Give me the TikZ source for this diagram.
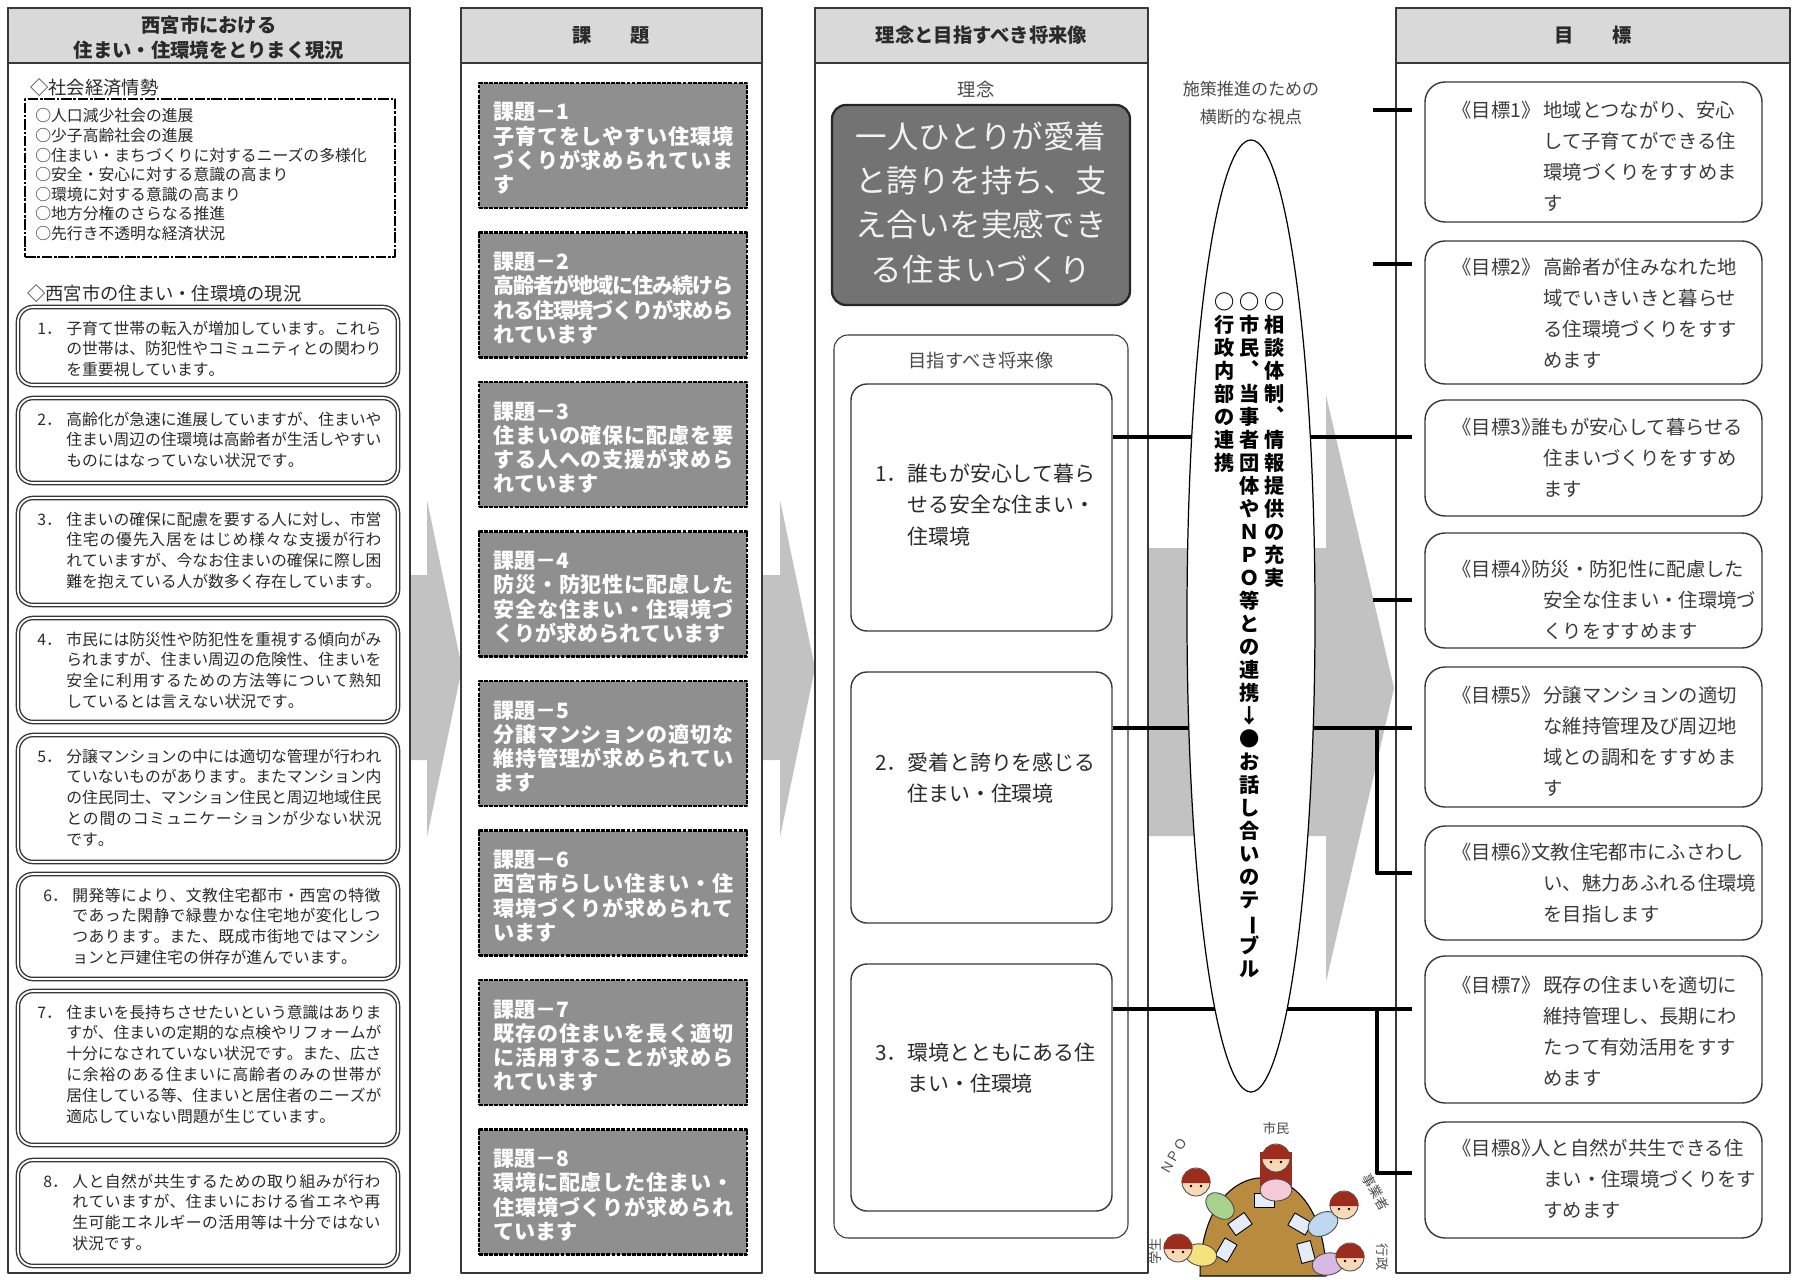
\documentclass[tikz,border=0pt]{standalone}
\usepackage{fontspec}
\setmainfont{Noto Sans CJK JP}
\usetikzlibrary{fit,shapes.geometric}
\definecolor{headgray}{HTML}{D9D9D9}
\definecolor{framec}{HTML}{383838}
\definecolor{kadaigray}{HTML}{8F8F8F}
\definecolor{rinengray}{HTML}{737373}
\definecolor{arrowgray}{HTML}{C2C2C2}
\definecolor{textc}{HTML}{2A2A2A}
\definecolor{softc}{HTML}{4A4A4A}
\definecolor{goaltext}{HTML}{3A3A3A}
\definecolor{tablec}{HTML}{B98B3E}
\definecolor{skinc}{HTML}{F7D9B5}
\definecolor{hairc}{HTML}{9C2D1E}
\definecolor{paperc}{HTML}{E3ECF7}
\definecolor{pinkc}{HTML}{F6C9D8}
\definecolor{greenc}{HTML}{A9D18E}
\definecolor{bluec}{HTML}{BDD7EE}
\definecolor{yellowc}{HTML}{F4E37C}
\definecolor{purplec}{HTML}{D7B9E3}
\def\tateend{\tateend}
\def\spreadloop#1{\ifx#1\tateend\else#1\hskip0pt plus1pt minus1.2pt\relax\expandafter\spreadloop\fi}
\def\tateloop#1{\ifx#1\tateend\else\hbox to 1em{\hss#1\hss}\expandafter\tateloop\fi}
\newcommand\lft[2]{\vtop{\baselineskip=#1\relax\lineskiplimit=-\maxdimen\let\\\cr\halign{##\hfil\cr#2\crcr}}}
\newcommand\ctr[2]{\vtop{\baselineskip=#1\relax\lineskiplimit=-\maxdimen\let\\\cr\halign{\hfil##\hfil\cr#2\crcr}}}
\newcommand\jst[3]{\vtop{\baselineskip=#2\relax\lineskiplimit=-\maxdimen\let\\\cr\halign{\hbox to #1{\spreadloop##\tateend\unskip}\cr#3\hfill\crcr}}}
\newcommand\tate[2]{\vtop{\baselineskip=#1\relax\lineskiplimit=-\maxdimen\tateloop#2\tateend}}
\newcommand\vc{\hbox to 1em{\kern.55em\raise.6em\hbox{、}\hss}}
\newcommand\vb{\rotatebox[origin=c]{-90}{ー}}
\begin{document}
\begin{tikzpicture}[x=0.2mm,y=-0.2mm,line join=round,
  fitbox/.style={inner sep=0pt,fit={#1}},
  frame/.style={draw=framec,line width=1.4pt,fill=white},
  headbar/.style={draw=framec,line width=1.4pt,fill=headgray},
  sitbox/.style={draw=framec,line width=0.8pt,double=white,double distance=1pt,rounded corners=3mm,fill=white},
  kadaibox/.style={draw=black,line width=1.6pt,dash pattern=on 2.2pt off 0.7pt,fill=kadaigray},
  visionbox/.style={draw=framec,line width=0.8pt,rounded corners=3.2mm,fill=white},
  goalbox/.style={draw=framec,line width=0.8pt,rounded corners=4mm,fill=white},
  conn/.style={line width=2.6pt,line cap=butt},
  txt/.style={inner sep=0pt,anchor=base west,text=textc},
  ctxt/.style={inner sep=0pt,anchor=base,text=textc},
  headfont/.style={font=\fontsize{11}{13}\selectfont\bfseries,text=textc},
  tatefont/.style={inner sep=0pt,anchor=base,font=\fontsize{11.5}{13}\selectfont\bfseries},
  labfont/.style={inner sep=0pt,text=softc,font=\fontsize{7.5}{8}\selectfont},
  person/.style={line width=0.5pt,draw=black!70}]
\fill[white] (0,0) rectangle (1798,1279);
\useasboundingbox (0,0) rectangle (1798,1279);
\foreach \ax in {427,780} \fill[arrowgray] (\ax-127,575) -- (\ax,575) -- (\ax,500) -- (\ax+35,668) -- (\ax,837) -- (\ax,760) -- (\ax-127,760) -- cycle;
\fill[arrowgray] (1100,548) -- (1326,548) -- (1326,395) -- (1394,688) -- (1326,982) -- (1326,836) -- (1100,836) -- cycle;
\foreach \l/\r/\n in {8/410/1,461/762/2,815/1148/3,1396/1790/4} {
  \node[frame,fitbox={(\l,8)(\r,1273)}] (col\n) {};
  \node[headbar,fitbox={(\l,8)(\r,63)}] (head\n) {};
}
\node[ctxt,headfont] (ht1) at (209,32.3) {\ctr{14.2pt}{西宮市における\\住まい・住環境をとりまく現況}};
\node[headfont] (ht2) at (head2) {課　　題};
\node[headfont] (ht3) at (head3) {理念と目指すべき将来像};
\node[headfont] (ht4) at (head4) {目　　標};

\node[txt,font=\fontsize{10.4}{12}\selectfont] (soc) at (30,95) {◇社会経済情勢};
\node[draw=black,line width=1.4pt,dash pattern=on 6pt off 1pt on 1.5pt off 1pt,fitbox={(25,99)(395,257)}] (socbox) {};
\node[txt,font=\fontsize{9}{11}\selectfont] (soct) at (35,122) {\lft{11.1pt}{○人口減少社会の進展\\○少子高齢社会の進展\\○住まい・まちづくりに対するニーズの多様化\\○安全・安心に対する意識の高まり\\○環境に対する意識の高まり\\○地方分権のさらなる推進\\○先行き不透明な経済状況}};
\node[txt,font=\fontsize{10.4}{12}\selectfont] (cur) at (27,300) {◇西宮市の住まい・住環境の現況};
\foreach \n/\ya/\yb/\xn/\w/\tx in {
  1/307/385/37/63mm/{子育て世帯の転入が増加しています。これら\\の世帯は、防犯性やコミュニティとの関わり\\を重要視しています。},
  2/398/483/37/63mm/{高齢化が急速に進展していますが、住まいや\\住まい周辺の住環境は高齢者が生活しやすい\\ものにはなっていない状況です。},
  3/498/605/37/63mm/{住まいの確保に配慮を要する人に対し、市営\\住宅の優先入居をはじめ様々な支援が行わ\\れていますが、今なお住まいの確保に際し困\\難を抱えている人が数多く存在しています。},
  4/618/722/37/63mm/{市民には防災性や防犯性を重視する傾向がみ\\られますが、住まい周辺の危険性、住まいを\\安全に利用するための方法等について熟知\\しているとは言えない状況です。},
  5/735/862/37/63mm/{分譲マンションの中には適切な管理が行われ\\ていないものがあります。またマンション内\\の住民同士、マンション住民と周辺地域住民\\との間のコミュニケーションが少ない状況\\です。},
  6/874/979/43/61.6mm/{開発等により、文教住宅都市・西宮の特徴\\であった閑静で緑豊かな住宅地が変化しつ\\つあります。また、既成市街地ではマンシ\\ョンと戸建住宅の併存が進んでいます。},
  7/991/1145/37/63mm/{住まいを長持ちさせたいという意識はありま\\すが、住まいの定期的な点検やリフォームが\\十分になされていない状況です。また、広さ\\に余裕のある住まいに高齢者のみの世帯が\\居住している等、住まいと居住者のニーズが\\適応していない問題が生じています。},
  8/1160/1266/43/61.6mm/{人と自然が共生するための取り組みが行わ\\れていますが、住まいにおける省エネや再\\生可能エネルギーの活用等は十分ではない\\状況です。}}
{
  \node[sitbox,fitbox={(18,\ya)(398,\yb)}] (s\n) {};
  \node[txt,font=\fontsize{9}{11}\selectfont] (st\n) at (\xn,\ya+27) {\makebox[5.8mm][l]{\n{}．}\jst{\w}{11.84pt}{\tx}};
}

\foreach \n/\tx in {
  1/{子育てをしやすい住環境\\づくりが求められていま\\す},
  2/{高齢者が地域に住み続けら\\れる住環境づくりが求めら\\れています},
  3/{住まいの確保に配慮を要\\する人への支援が求めら\\れています},
  4/{防災・防犯性に配慮した\\安全な住まい・住環境づ\\くりが求められています},
  5/{分譲マンションの適切な\\維持管理が求められてい\\ます},
  6/{西宮市らしい住まい・住\\環境づくりが求められて\\います},
  7/{既存の住まいを長く適切\\に活用することが求めら\\れています},
  8/{環境に配慮した住まい・\\住環境づくりが求められ\\ています}}
{
  \node[kadaibox,fitbox={(479,{83+149.5*(\n-1)})(747,{208+149.5*(\n-1)})}] (k\n) {};
  \node[txt,text=white,font=\fontsize{12}{14}\selectfont\bfseries] (kt\n) at (493,{120+149.5*(\n-1)}) {\jst{48mm}{13.8pt}{課題－\n\hfill\\\tx}};
}

\node[font=\fontsize{10.4}{12}\selectfont,text=softc] (rinenl) at (976,89) {理念};
\node[draw=black!85,line width=1.3pt,fill=rinengray,rounded corners=2.8mm,fitbox={(832,105)(1130,305)}] (rinen) {};
\node[ctxt,text=white!95!black,font=\fontsize{17.9}{20}\selectfont] (rinent) at (981,148) {\ctr{25.3pt}{一人ひとりが愛着\\と誇りを持ち、支\\え合いを実感でき\\る住まいづくり}};
\node[visionbox,line width=0.6pt,rounded corners=2.8mm,fitbox={(834,335)(1128,1238)}] (vision) {};
\node[font=\fontsize{10.4}{12}\selectfont,text=softc] (visionl) at (981,361) {目指すべき将来像};
\node[visionbox,fitbox={(851,384)(1112,631)}] (v1) {};
\node[visionbox,fitbox={(851,672)(1112,923)}] (v2) {};
\node[visionbox,fitbox={(851,964)(1112,1211)}] (v3) {};
\node[txt,font=\fontsize{11.9}{14}\selectfont] (vt1) at (875,481) {\makebox[6.4mm][l]{1．}\lft{18.2pt}{誰もが安心して暮ら\\せる安全な住まい・\\住環境}};
\node[txt,font=\fontsize{11.9}{14}\selectfont] (vt2) at (875,770) {\makebox[6.4mm][l]{2．}\lft{18.2pt}{愛着と誇りを感じる\\住まい・住環境}};
\node[txt,font=\fontsize{11.9}{14}\selectfont] (vt3) at (875,1060) {\makebox[6.4mm][l]{3．}\lft{18.2pt}{環境とともにある住\\まい・住環境}};

\foreach \n/\ya/\yb/\fy/\sh/\tx in {
  1/82/222/110/0mm/{地域とつながり、安心\\して子育てができる住\\環境づくりをすすめま\\す},
  2/241/384/267/0mm/{高齢者が住みなれた地\\域でいきいきと暮らせ\\る住環境づくりをすす\\めます},
  3/400/516/427/-2.4mm/{誰もが安心して暮らせる\\住まいづくりをすすめ\\ます},
  4/533/648/569/-2.4mm/{防災・防犯性に配慮した\\安全な住まい・住環境づ\\くりをすすめます},
  5/667/807/695/0mm/{分譲マンションの適切\\な維持管理及び周辺地\\域との調和をすすめま\\す},
  6/826/940/852/-2.4mm/{文教住宅都市にふさわし\\い、魅力あふれる住環境\\を目指します},
  7/956/1103/985/0mm/{既存の住まいを適切に\\維持管理し、長期にわ\\たって有効活用をすす\\めます},
  8/1122/1238/1148/-2.4mm/{人と自然が共生できる住\\まい・住環境づくりをす\\すめます}}
{
  \node[goalbox,fitbox={(1425,\ya)(1762,\yb)}] (g\n) {};
  \node[txt,text=goaltext,font=\fontsize{11}{13}\selectfont] (gt\n) at (1452,\fy+7.4) {\makebox[18.2mm][l]{《目標\n{}》}\lft{17.6pt}{\hspace*{\sh}\tx}};
}

\coordinate (tk1) at (1373,110);
\coordinate (tk2) at (1373,264);
\coordinate (tk4) at (1373,600);
\coordinate (c1) at (1377,437);
\coordinate (c2) at (1377,728);
\coordinate (d2) at (1377,873);
\coordinate (c3) at (1377,1009);
\coordinate (d3) at (1377,1173);
\foreach \k in {1,2,4} \draw[conn,shorten >=2.4mm] (tk\k) -- (tk\k -| g\k.west);
\draw[conn,shorten >=2.4mm] (v1.east |- c1) -- (g3.west |- c1);
\draw[conn,shorten >=2.4mm] (v2.east |- c2) -- (g5.west |- c2);
\draw[conn,shorten >=2.4mm] (v3.east |- c3) -- (g7.west |- c3);
\draw[conn,shorten >=2.4mm] (c2) |- (d2 -| g6.west);
\draw[conn,shorten >=2.4mm] (c3) |- (d3 -| g8.west);

\node[ellipse,draw=black,line width=0.7pt,fill=white,minimum width=25.6mm,minimum height=190.4mm,inner sep=0pt] (vp) at (1251,616) {};
\node[ctxt,text=softc,font=\fontsize{9.7}{11}\selectfont] (vpl) at (1251,95.5) {\ctr{15.9pt}{施策推進のための\\横断的な視点}};
\node[tatefont] (vp1) at (1275,309) {\tate{13.09pt}{○相談体制\vc 情報提供の充実}};
\node[tatefont] (vp2) at (1250,309) {\tate{13.09pt}{○市民\vc 当事者団体やＮＰＯ等との連携↓●お話し合いのテ\vb ブル}};
\node[tatefont] (vp3) at (1225,309) {\tate{13.09pt}{○行政内部の連携}};

\draw[fill=tablec,line width=0.6pt] (1200,1276) .. controls (1200,1145) and (1326,1145) .. (1326,1276) -- cycle;
\foreach \px/\py/\pr in {1264/1200/0,1240/1224/35,1300/1224/-30,1226/1250/60,1306/1252/-75}
  \draw[fill=paperc,line width=0.5pt,rotate around={\pr:(\px,\py)}] (\px-10,\py-7) rectangle (\px+10,\py+7);
\fill[hairc] (1260,1152) rectangle (1292,1186);
\foreach \hx/\hy/\bc/\bx/\by/\br in {1276/1158/pinkc/1276/1190/0,1196/1182/greenc/1220/1206/-40,1344/1205/bluec/1323/1224/30,1178/1248/yellowc/1201/1255/-10,1350/1257/purplec/1328/1264/10} {
  \draw[person,fill=\bc,rotate around={\br:(\bx,\by)}] (\bx,\by) ellipse (16 and 11);
  \draw[person,fill=skinc] (\hx,\hy) circle (14);
  \fill[hairc] (\hx-14.5,\hy+1) arc (180:360:14.5) -- cycle;
  \fill (\hx-5,\hy+4) circle (1.3) (\hx+5,\hy+4) circle (1.3);
}
\node[labfont] (lb1) at (1276,1128) {市民};
\node[labfont,rotate=60] (lb2) at (1174,1156) {ＮＰＯ};
\node[labfont,rotate=-60] (lb3) at (1376,1192) {事業者};
\node[labfont,rotate=90] (lb4) at (1155,1251) {学生};
\node[labfont,rotate=-90] (lb5) at (1382,1257) {行政};
\end{tikzpicture}
\end{document}
